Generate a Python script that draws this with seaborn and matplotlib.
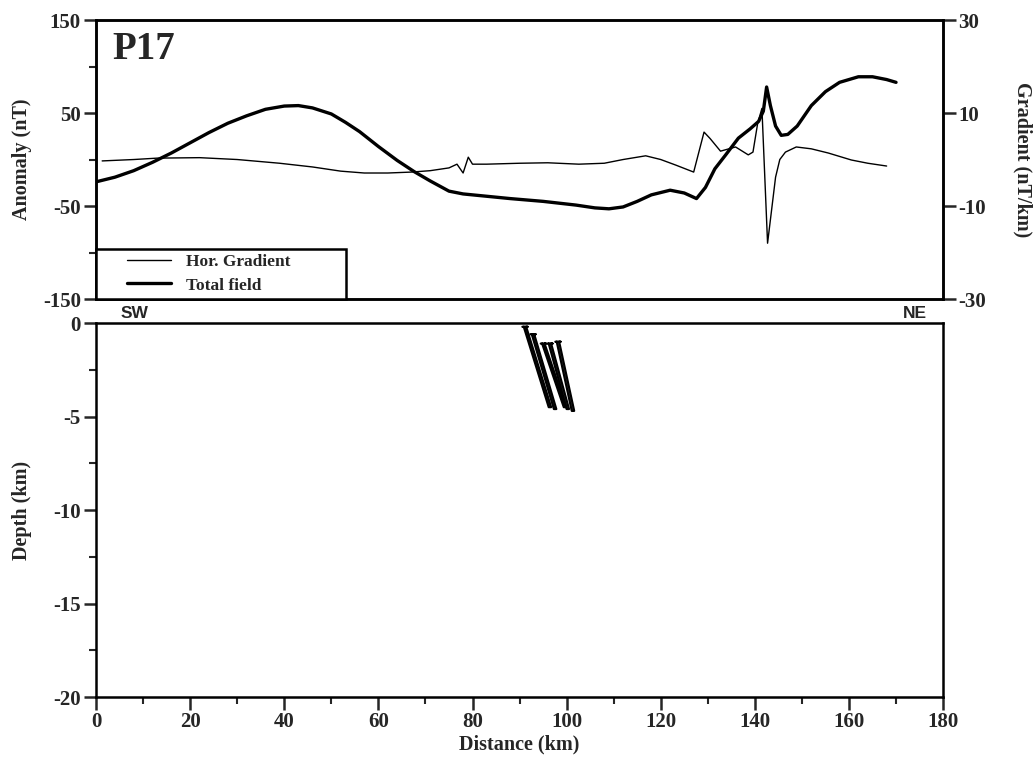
import matplotlib
matplotlib.use("Agg")
import matplotlib.pyplot as plt
from matplotlib.lines import Line2D
from matplotlib.patches import Rectangle
from matplotlib.ticker import MultipleLocator, FixedLocator
import numpy as np
import pandas as pd
import seaborn as sns

# ---- Profile P17: total-field anomaly (nT) along distance (km)
field_km = [0, 4, 8, 12, 16, 20, 24, 28, 32, 36, 40, 43, 46, 50, 53, 56, 60,
            64, 67.6, 71, 75, 78, 82, 88, 95, 102, 106, 109, 112, 115, 118,
            122, 125, 127.6, 129.5, 131.5, 133.8, 136.5, 139, 140.8, 141.8,
            142.5, 143.3, 144.4, 145.6, 147, 149, 152, 155, 158, 162, 165,
            168, 170]
field_nt = [-24, -19, -12, -3, 7, 18, 29, 39, 47, 54, 57.5, 58, 55.5, 49, 40,
            30, 14, -1, -13, -23, -34, -37, -39, -42, -45, -49, -52, -53, -51,
            -45, -38, -33, -36, -42, -30, -10, 5, 23, 33, 41, 52, 78, 58, 36,
            26, 27, 36, 58, 73, 83, 89, 89, 86, 83]

# ---- Horizontal gradient (nT/km)
grad_km = [1.3, 8, 13, 22, 30, 39, 46, 52, 57, 62, 67, 71, 75, 76.7, 78,
           79.1, 80, 83, 90, 96, 102.6, 108, 112, 116.8, 120, 123.2, 127,
           129.2, 130.5, 132.7, 135.9, 138.6, 139.6, 140.6, 141.5, 142.7,
           144.4, 145.3, 146.5, 148.8, 152, 155.6, 160.5, 164, 168]
grad_val = [-0.3, 0.0, 0.3, 0.4, 0.0, -0.8, -1.6, -2.5, -2.9, -2.9, -2.7,
            -2.4, -1.8, -1.0, -2.9, 0.5, -1.0, -1.0, -0.8, -0.7, -1.0, -0.8,
            0.0, 0.8, 0.0, -1.2, -2.7, 5.9, 4.5, 1.8, 2.7, 1.0, 1.6, 7.8, 11.0,
            -18.0, -3.8, 0.0, 1.6, 2.7, 2.3, 1.4, -0.1, -0.8, -1.4]

# ---- Modelled thin dipping bodies (top / bottom position, km)
body_top_km = [90.9, 92.6, 94.8, 96.2, 97.9]
body_top_depth = [-0.2, -0.6, -1.1, -1.1, -1.0]
body_bot_km = [96.2, 97.3, 99.4, 100.0, 101.1]
body_bot_depth = [-4.5, -4.6, -4.5, -4.6, -4.7]
body_width_km = [0.5, 0.5, 0.5, 0.5, 0.5]

legend_labels = ["Hor. Gradient", "Total field"]

anomaly_ticks = [-150, -50, 50, 150]
anomaly_minor = [-100, 0, 100]
gradient_ticks = [-30, -10, 10, 30]

sns.set_style("ticks")
plt.rcParams["font.family"] = ["Liberation Serif", "DejaVu Serif"]
plt.rcParams["font.weight"] = "bold"
plt.rcParams["axes.labelweight"] = "bold"
plt.rcParams["axes.unicode_minus"] = False
plt.rcParams["axes.edgecolor"] = "black"

TICK_FS = 15
LABEL_FS = 14.5

fig = plt.figure(figsize=(10.35, 7.62), dpi=100)
ax_top = fig.add_axes([0.0928, 0.6076, 0.8184, 0.3661])
ax_grad = ax_top.twinx()
ax_bot = fig.add_axes([0.0928, 0.0853, 0.8184, 0.4908])

field_df = pd.DataFrame({"Distance (km)": field_km, "Anomaly (nT)": field_nt})
grad_df = pd.DataFrame({"Distance (km)": grad_km, "Gradient (nT/km)": grad_val})

sns.lineplot(data=field_df, x="Distance (km)", y="Anomaly (nT)", ax=ax_top,
             color="black", linewidth=2.4, sort=False, estimator=None)
sns.lineplot(data=grad_df, x="Distance (km)", y="Gradient (nT/km)", ax=ax_grad,
             color="black", linewidth=1.0, sort=False, estimator=None)

# upper panel axes
ax_top.set_xlim(0, 180)
ax_top.set_ylim(-150, 150)
ax_grad.set_ylim(-30, 30)
ax_top.set_xticks([])
ax_top.set_xlabel("")
ax_top.yaxis.set_major_locator(FixedLocator(anomaly_ticks))
ax_top.yaxis.set_minor_locator(FixedLocator(anomaly_minor))
ax_grad.yaxis.set_major_locator(FixedLocator(gradient_ticks))
for a in (ax_top, ax_grad):
    a.tick_params(axis="y", which="major", length=9, width=1.8,
                  labelsize=TICK_FS, pad=2)
    a.tick_params(axis="y", which="minor", length=5, width=1.5)
    for lab in a.get_yticklabels():
        lab.set_fontweight("bold")
    for s in a.spines.values():
        s.set_linewidth(1.8)
ax_top.set_ylabel("Anomaly (nT)", fontsize=LABEL_FS, fontweight="bold",
                  va="center")
ax_top.yaxis.set_label_coords(-0.087, 0.5)
ax_grad.set_ylabel("Gradient (nT/km)", fontsize=LABEL_FS, fontweight="bold",
                   rotation=270, va="center")
ax_grad.yaxis.set_label_coords(1.094, 0.5)

ax_top.text(0.019, 0.86, "P17", transform=ax_top.transAxes, fontsize=28,
            fontweight="bold", ha="left", va="baseline")

# legend: framed box in the lower-left corner of the profile panel
ax_grad.add_patch(Rectangle((0.0, 0.0), 0.295, 0.18, transform=ax_grad.transAxes,
                            facecolor="white", edgecolor="black", linewidth=1.8,
                            zorder=5, clip_on=False))
handles = [Line2D([], [], color="black", linewidth=1.0),
           Line2D([], [], color="black", linewidth=2.4)]
leg = ax_grad.legend(handles, legend_labels, loc="center left",
                     bbox_to_anchor=(0.037, 0.09), borderaxespad=0,
                     frameon=False, handlelength=2.5, handletextpad=0.9,
                     borderpad=0.0, labelspacing=0.4,
                     prop={"family": "Liberation Serif", "weight": "bold",
                           "size": 12.5})
leg.set_zorder(6)

# lower panel: model section
rows = []
for i in range(len(body_top_km)):
    w = body_width_km[i]
    path = [(body_top_km[i] - 0.3, body_top_depth[i]),
            (body_top_km[i] + w + 0.3, body_top_depth[i]),
            (body_top_km[i] + w, body_top_depth[i]),
            (body_bot_km[i] + w, body_bot_depth[i]),
            (body_bot_km[i], body_bot_depth[i]),
            (body_top_km[i], body_top_depth[i])]
    for k, (xk, dk) in enumerate(path):
        rows.append({"body": i, "order": k, "Distance (km)": xk, "Depth (km)": dk})
bodies_df = pd.DataFrame(rows)
sns.lineplot(data=bodies_df, x="Distance (km)", y="Depth (km)", units="body",
             estimator=None, sort=False, color="black", linewidth=1.6,
             ax=ax_bot)

ax_bot.set_xlim(0, 180)
ax_bot.set_ylim(-20, 0)
ax_bot.xaxis.set_major_locator(MultipleLocator(20))
ax_bot.xaxis.set_minor_locator(MultipleLocator(10))
ax_bot.yaxis.set_major_locator(MultipleLocator(5))
ax_bot.yaxis.set_minor_locator(MultipleLocator(2.5))
ax_bot.tick_params(which="major", length=9, width=1.8, labelsize=TICK_FS, pad=2)
ax_bot.tick_params(which="minor", length=5, width=1.5)
for lab in ax_bot.get_xticklabels() + ax_bot.get_yticklabels():
    lab.set_fontweight("bold")
for s in ax_bot.spines.values():
    s.set_linewidth(1.8)
ax_bot.set_xlabel("Distance (km)", fontsize=LABEL_FS, fontweight="bold",
                  va="center")
ax_bot.set_ylabel("Depth (km)", fontsize=LABEL_FS, fontweight="bold",
                  va="center")
ax_bot.yaxis.set_label_coords(-0.087, 0.5)
ax_bot.xaxis.set_label_coords(0.5, -0.128)

# profile orientation
fig.text(0.130, 0.589, "SW", fontsize=12.5, fontweight="bold",
         family="Liberation Sans", ha="center", va="center")
fig.text(0.884, 0.589, "NE", fontsize=12.5, fontweight="bold",
         family="Liberation Sans", ha="center", va="center")

fig.savefig("out.png", dpi=100)
